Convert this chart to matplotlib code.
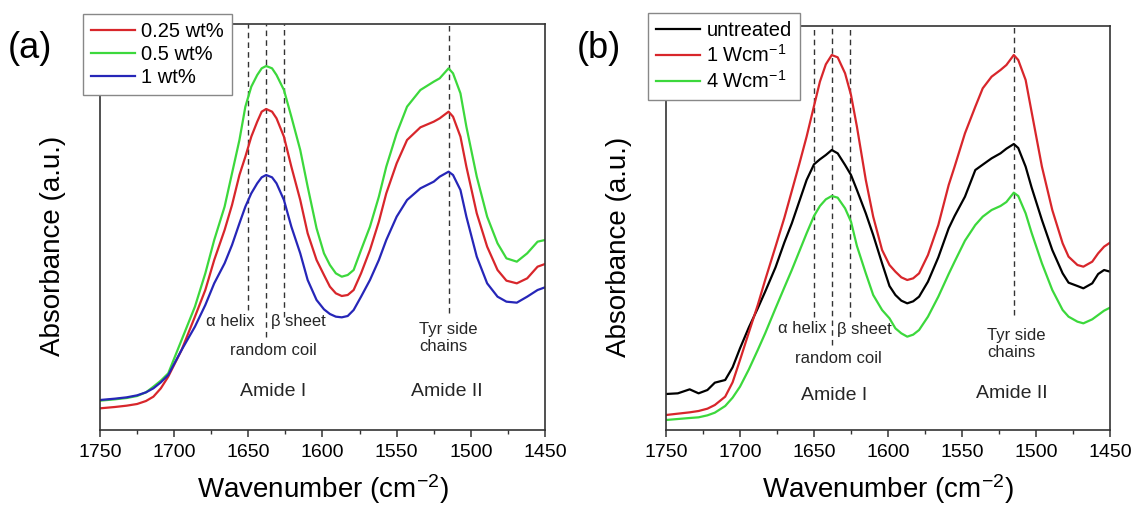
import matplotlib
matplotlib.use("Agg")
import matplotlib.pyplot as plt
from matplotlib.ticker import MultipleLocator

plt.rcParams['font.family'] = ['Liberation Sans', 'DejaVu Sans']
plt.rcParams['mathtext.fontset'] = 'custom'
plt.rcParams['mathtext.rm'] = 'Liberation Sans'
plt.rcParams['mathtext.it'] = 'Liberation Sans:italic'
plt.rcParams['mathtext.bf'] = 'Liberation Sans:bold'

# ---- panel (a): concentration series ----
wn_a = [1750, 1740, 1732, 1725, 1719, 1714, 1709, 1704, 1695, 1686,
        1679, 1673, 1666, 1661, 1656, 1652, 1648, 1644, 1641, 1638,
        1634, 1631, 1626, 1621, 1615, 1610, 1604, 1599, 1595, 1591,
        1587, 1583, 1579, 1574, 1568, 1562, 1557, 1550, 1543, 1534,
        1525, 1521, 1515, 1512, 1507, 1503, 1496, 1489, 1482, 1476,
        1469, 1462, 1455, 1450]
abs_a_025 = [0.065, 0.069, 0.073, 0.078, 0.087, 0.100, 0.125, 0.160, 0.240, 0.340,
             0.420, 0.510, 0.600, 0.675, 0.765, 0.820, 0.880, 0.925, 0.955, 0.963,
             0.955, 0.935, 0.880, 0.790, 0.690, 0.590, 0.510, 0.465, 0.430, 0.410,
             0.402, 0.405, 0.420, 0.470, 0.540, 0.625, 0.710, 0.800, 0.870, 0.908,
             0.925, 0.935, 0.955, 0.940, 0.880, 0.790, 0.650, 0.550, 0.480, 0.448,
             0.440, 0.455, 0.490, 0.498]
abs_a_05 = [0.088, 0.092, 0.096, 0.102, 0.113, 0.130, 0.148, 0.170, 0.270, 0.370,
            0.470, 0.570, 0.670, 0.770, 0.870, 0.970, 1.030, 1.065, 1.085, 1.092,
            1.085, 1.065, 1.020, 0.940, 0.840, 0.730, 0.605, 0.530, 0.495, 0.470,
            0.460, 0.465, 0.480, 0.540, 0.610, 0.700, 0.790, 0.890, 0.970, 1.020,
            1.045, 1.055, 1.085, 1.070, 1.010, 0.910, 0.760, 0.640, 0.560, 0.515,
            0.505, 0.530, 0.565, 0.570]
abs_a_1 = [0.090, 0.094, 0.098, 0.104, 0.113, 0.125, 0.143, 0.165, 0.240, 0.310,
           0.375, 0.440, 0.500, 0.555, 0.620, 0.670, 0.710, 0.740, 0.758, 0.765,
           0.758, 0.740, 0.690, 0.610, 0.530, 0.450, 0.390, 0.362, 0.348, 0.340,
           0.338, 0.342, 0.360, 0.400, 0.450, 0.510, 0.570, 0.640, 0.690, 0.725,
           0.745, 0.760, 0.775, 0.765, 0.720, 0.640, 0.520, 0.440, 0.400, 0.385,
           0.382, 0.400, 0.420, 0.428]

# ---- panel (b): ultrasound treatment ----
wn_b = [1750, 1742, 1734, 1728, 1722, 1717, 1710, 1705, 1700, 1694,
        1688, 1683, 1676, 1670, 1665, 1660, 1655, 1650, 1646, 1642,
        1638, 1634, 1629, 1625, 1621, 1615, 1610, 1604, 1599, 1595,
        1591, 1587, 1583, 1579, 1573, 1566, 1559, 1555, 1548, 1541,
        1536, 1530, 1524, 1520, 1515, 1512, 1507, 1503, 1496, 1489,
        1482, 1478, 1472, 1468, 1462, 1458, 1454, 1450]
abs_b_untreated = [0.108, 0.110, 0.122, 0.110, 0.120, 0.142, 0.150, 0.188, 0.245, 0.308,
                   0.365, 0.415, 0.488, 0.563, 0.620, 0.685, 0.750, 0.797, 0.812, 0.825,
                   0.840, 0.830, 0.795, 0.765, 0.720, 0.650, 0.585, 0.500, 0.432, 0.405,
                   0.388, 0.380, 0.386, 0.400, 0.445, 0.518, 0.605, 0.642, 0.700, 0.780,
                   0.796, 0.815, 0.830, 0.844, 0.858, 0.846, 0.790, 0.728, 0.630, 0.540,
                   0.470, 0.442, 0.432, 0.425, 0.440, 0.468, 0.480, 0.475]
abs_b_1w = [0.045, 0.049, 0.053, 0.057, 0.064, 0.075, 0.100, 0.143, 0.210, 0.293,
            0.375, 0.450, 0.550, 0.637, 0.717, 0.797, 0.880, 0.972, 1.045, 1.097,
            1.125, 1.118, 1.070, 1.005, 0.910, 0.750, 0.640, 0.540, 0.495, 0.475,
            0.458, 0.450, 0.455, 0.470, 0.525, 0.615, 0.735, 0.790, 0.890, 0.970,
            1.025, 1.060, 1.080, 1.095, 1.125, 1.110, 1.050, 0.955, 0.790, 0.660,
            0.560, 0.520, 0.495, 0.490, 0.505, 0.530, 0.550, 0.562]
abs_b_4w = [0.030, 0.033, 0.036, 0.038, 0.044, 0.052, 0.072, 0.097, 0.130, 0.182,
            0.240, 0.290, 0.365, 0.428, 0.480, 0.535, 0.590, 0.642, 0.672, 0.692,
            0.702, 0.697, 0.665, 0.625, 0.552, 0.470, 0.405, 0.360, 0.335, 0.305,
            0.290, 0.280, 0.286, 0.300, 0.340, 0.400, 0.468, 0.505, 0.568, 0.615,
            0.640, 0.660, 0.672, 0.684, 0.712, 0.702, 0.650, 0.592, 0.500, 0.420,
            0.360, 0.340, 0.325, 0.320, 0.332, 0.345, 0.358, 0.367]

# band assignments (dashed markers)
band_wn = [1650, 1638, 1626, 1515]
band_end_a = [0.36, 0.279, 0.339, 0.351]
band_end_b = [0.339, 0.255, 0.339, 0.345]

RED = '#d8262b'
GREEN = '#3cd83c'
BLUE = '#2626b8'
TXT = '#262626'

fig = plt.figure(figsize=(11.33, 5.08), dpi=100)
ax_a = fig.add_axes([0.08826, 0.15354, 0.39276, 0.79921])
ax_b = fig.add_axes([0.58782, 0.15354, 0.39188, 0.79528])


def style_axis(ax, ytop):
    ax.set_xlim(1750, 1450)
    ax.set_ylim(0, ytop)
    ax.xaxis.set_major_locator(MultipleLocator(50))
    ax.xaxis.set_minor_locator(MultipleLocator(25))
    ax.tick_params(axis='x', which='major', direction='out', length=5, width=1.1,
                   labelsize=14, pad=5, colors='#333333', labelcolor='black')
    ax.tick_params(axis='x', which='minor', direction='out', length=3, width=1.0,
                   colors='#333333')
    ax.set_yticks([])
    for sp in ax.spines.values():
        sp.set_linewidth(1.2)
        sp.set_color('#333333')
    ax.set_xlabel('Wavenumber (cm$^{-2}$)', fontsize=20, labelpad=8)
    ax.set_ylabel('Absorbance (a.u.)', fontsize=20)
    ax.yaxis.set_label_coords(-0.077, 0.453)


def band_marks(ax, ends, ytop):
    ax.vlines(band_wn, ends, ytop, colors='#333333', linewidth=1.0,
              linestyles=(0, (4, 3)))


def make_legend(ax, left_px, top_px):
    leg = ax.legend(loc='upper left', bbox_to_anchor=(left_px / 1133, 1 - top_px / 508),
                    bbox_transform=fig.transFigure, borderaxespad=0, fontsize=14.5,
                    handlelength=2.2, handletextpad=0.3, labelspacing=0.2,
                    fancybox=False, framealpha=1, edgecolor='#888888', borderpad=0.4)
    leg.get_frame().set_linewidth(1.0)


# panel (a)
style_axis(ax_a, 1.218)
band_marks(ax_a, band_end_a, 1.218)
ax_a.plot(wn_a, abs_a_025, color=RED, lw=1.6, label='0.25 wt%')
ax_a.plot(wn_a, abs_a_05, color=GREEN, lw=1.6, label='0.5 wt%')
ax_a.plot(wn_a, abs_a_1, color=BLUE, lw=1.6, label='1 wt%')
ax_a.text(1662, 0.325, 'α helix', fontsize=12, color=TXT, ha='center', va='center')
ax_a.text(1634.5, 0.325, 'β sheet', fontsize=12, color=TXT, ha='left', va='center')
ax_a.text(1633, 0.24, 'random coil', fontsize=12, color=TXT, ha='center', va='center')
ax_a.text(1535, 0.277, 'Tyr side\nchains', fontsize=12, color=TXT, ha='left', va='center',
          linespacing=1.15)
ax_a.text(1633, 0.115, 'Amide I', fontsize=14, color=TXT, ha='center', va='center')
ax_a.text(1516.5, 0.115, 'Amide II', fontsize=14, color=TXT, ha='center', va='center')
make_legend(ax_a, 83, 14)

# panel (b)
style_axis(ax_b, 1.212)
band_marks(ax_b, band_end_b, 1.212)
ax_b.plot(wn_b, abs_b_untreated, color='black', lw=1.6, label='untreated')
ax_b.plot(wn_b, abs_b_1w, color=RED, lw=1.6, label='1 Wcm$^{-1}$')
ax_b.plot(wn_b, abs_b_4w, color=GREEN, lw=1.6, label='4 Wcm$^{-1}$')
ax_b.text(1658, 0.305, 'α helix', fontsize=12, color=TXT, ha='center', va='center')
ax_b.text(1634.4, 0.302, 'β sheet', fontsize=12, color=TXT, ha='left', va='center')
ax_b.text(1633.3, 0.215, 'random coil', fontsize=12, color=TXT, ha='center', va='center')
ax_b.text(1533, 0.259, 'Tyr side\nchains', fontsize=12, color=TXT, ha='left', va='center',
          linespacing=1.15)
ax_b.text(1636.7, 0.105, 'Amide I', fontsize=14, color=TXT, ha='center', va='center')
ax_b.text(1516.2, 0.110, 'Amide II', fontsize=14, color=TXT, ha='center', va='center')
make_legend(ax_b, 648, 13)

# panel letters
fig.text(30 / 1133, 1 - 48 / 508, '(a)', fontsize=26, ha='center', va='center')
fig.text(599 / 1133, 1 - 48 / 508, '(b)', fontsize=26, ha='center', va='center')

fig.savefig('out.png', dpi=100)
